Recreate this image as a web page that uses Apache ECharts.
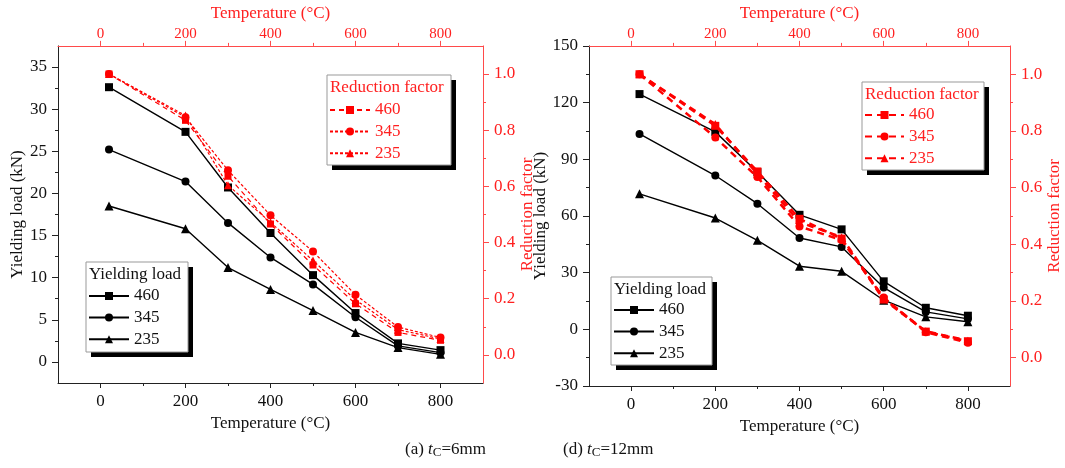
<!DOCTYPE html>
<html>
<head>
<meta charset="utf-8">
<script src="https://cdn.jsdelivr.net/npm/echarts@6/dist/echarts.min.js"></script>
<style>
html,body{margin:0;padding:0;background:#fff;}
#c{width:1065px;height:468px;}
</style>
</head>
<body>
<div id="c"></div>
<script>
// ---------- data ----------
const temps = [20, 200, 300, 400, 500, 600, 700, 800];
const xTickLabels = [0, 200, 400, 600, 800];
const xMinorTicks = [100, 300, 500, 700];

// (a) tC = 6 mm : yielding load (kN)
const loadA460 = [32.6, 27.3, 20.7, 15.3, 10.3, 5.8, 2.2, 1.4];
const loadA345 = [25.2, 21.4, 16.5, 12.4, 9.2, 5.3, 1.9, 1.1];
const loadA235 = [18.5, 15.8, 11.2, 8.6, 6.1, 3.5, 1.7, 0.9];
// (a) reduction factor
const rfA460 = [1.0, 0.835, 0.636, 0.466, 0.320, 0.182, 0.080, 0.052];
const rfA345 = [1.0, 0.846, 0.657, 0.497, 0.368, 0.214, 0.099, 0.062];
const rfA235 = [1.0, 0.852, 0.604, 0.472, 0.336, 0.196, 0.090, 0.057];

// (d) tC = 12 mm : yielding load (kN)
const loadD460 = [124.5, 104.5, 83.2, 60.6, 52.9, 25.4, 11.4, 7.2];
const loadD345 = [103.4, 81.4, 66.5, 48.3, 43.6, 22.1, 9.2, 5.5];
const loadD235 = [71.7, 58.9, 47.1, 33.4, 30.7, 15.4, 6.6, 4.0];
// (d) reduction factor
const rfD460 = [1.0, 0.818, 0.657, 0.490, 0.420, 0.205, 0.092, 0.058];
const rfD345 = [1.0, 0.777, 0.637, 0.463, 0.415, 0.212, 0.090, 0.053];
const rfD235 = [1.0, 0.824, 0.648, 0.478, 0.425, 0.208, 0.093, 0.060];

// axis tick labels
const yLabelsA = [0, 5, 10, 15, 20, 25, 30, 35];
const yMinorA = [2.5, 7.5, 12.5, 17.5, 22.5, 27.5, 32.5];
const yLabelsD = [-30, 0, 30, 60, 90, 120, 150];
const yMinorD = [-15, 15, 45, 75, 105, 135];
const rfLabels = [0, 0.2, 0.4, 0.6, 0.8, 1.0];
const rfMinor = [0.1, 0.3, 0.5, 0.7, 0.9];

// ---------- styling ----------
const FONT = 'Liberation Serif';
const RED = '#ff0000';
const RED_AXIS = '#ff4a4a';
const RED_TEXT = '#ff2020';
const BLACK_AXIS = '#222';
const X_NAME = 'Temperature (\u00B0C)';

function xMain(grid, pos, color, textColor, labelSize, name, nameGap, margin) {
  return {
    type: 'value', gridIndex: grid, position: pos, min: -100, max: 900, interval: 100,
    name: name, nameLocation: 'middle', nameGap: nameGap,
    nameTextStyle: {color: textColor, fontFamily: FONT, fontSize: 17},
    axisLine: {show: true, onZero: false, lineStyle: {color: color, width: 1}},
    axisTick: {show: true, inside: false, length: 5, customValues: xTickLabels, lineStyle: {color: color}},
    axisLabel: {show: true, customValues: xTickLabels, color: textColor, fontFamily: FONT, fontSize: labelSize, margin: margin},
    splitLine: {show: false}
  };
}
function xMinor(grid, pos, color) {
  return {
    type: 'value', gridIndex: grid, position: pos, min: -100, max: 900, interval: 100,
    axisLine: {show: false, onZero: false},
    axisTick: {show: true, inside: false, length: 3, customValues: xMinorTicks, lineStyle: {color: color}},
    axisLabel: {show: false}, splitLine: {show: false}
  };
}
function yMain(grid, pos, min, max, interval, labels, color, textColor, name, nameGap, fmt) {
  return {
    type: 'value', gridIndex: grid, position: pos, min: min, max: max, interval: interval,
    name: name, nameLocation: 'middle', nameGap: nameGap, nameRotate: 90,
    nameTextStyle: {color: textColor, fontFamily: FONT, fontSize: 17},
    axisLine: {show: true, onZero: false, lineStyle: {color: color, width: 1}},
    axisTick: {show: true, inside: false, length: 6, customValues: labels, lineStyle: {color: color}},
    axisLabel: {show: true, customValues: labels, color: textColor, fontFamily: FONT, fontSize: 17, margin: 11, formatter: fmt},
    splitLine: {show: false}
  };
}
function yMinor(grid, pos, min, max, interval, ticks, color) {
  return {
    type: 'value', gridIndex: grid, position: pos, min: min, max: max, interval: interval,
    axisLine: {show: false, onZero: false},
    axisTick: {show: true, inside: false, length: 3, customValues: ticks, lineStyle: {color: color}},
    axisLabel: {show: false}, splitLine: {show: false}
  };
}

function pairs(vals) { return temps.map((t, i) => [t, vals[i]]); }

function loadSeries(name, vals, symbol, size, xi, yi) {
  return {
    name: name, type: 'line', xAxisIndex: xi, yAxisIndex: yi, data: pairs(vals),
    symbol: symbol, symbolSize: size,
    lineStyle: {color: '#000', width: 1.4},
    itemStyle: {color: '#000'},
    z: 3, animation: false
  };
}
function rfSeries(name, vals, symbol, size, xi, yi, width, dash) {
  return {
    name: name, type: 'line', xAxisIndex: xi, yAxisIndex: yi, data: pairs(vals),
    symbol: symbol, symbolSize: size,
    lineStyle: {color: RED, width: width, type: dash},
    itemStyle: {color: RED},
    z: 4, animation: false
  };
}

const fmtInt = v => String(v);
const fmtRf = v => Number(v).toFixed(1);

const option = {
  backgroundColor: '#fff',
  animation: false,
  grid: [
    {left: 58, top: 39, width: 425, height: 344},
    {left: 589, top: 45, width: 421, height: 341}
  ],
  xAxis: [
    xMain(0, 'bottom', BLACK_AXIS, '#111', 17, X_NAME, 26, 10),
    xMain(0, 'top', RED_AXIS, RED_TEXT, 15, X_NAME, 17, 4),
    xMinor(0, 'bottom', BLACK_AXIS),
    xMinor(0, 'top', RED_AXIS),
    xMain(1, 'bottom', BLACK_AXIS, '#111', 17, X_NAME, 26, 10),
    xMain(1, 'top', RED_AXIS, RED_TEXT, 15, X_NAME, 17, 4),
    xMinor(1, 'bottom', BLACK_AXIS),
    xMinor(1, 'top', RED_AXIS)
  ],
  yAxis: [
    yMain(0, 'left', -2.5, 37.5, 2.5, yLabelsA, BLACK_AXIS, '#111', 'Yielding load (kN)', 30, fmtInt),
    yMain(0, 'right', -0.1, 1.1, 0.1, rfLabels, RED_AXIS, RED_TEXT, 'Reduction factor', 30, fmtRf),
    yMinor(0, 'left', -2.5, 37.5, 2.5, yMinorA, BLACK_AXIS),
    yMinor(0, 'right', -0.1, 1.1, 0.1, rfMinor, RED_AXIS),
    yMain(1, 'left', -30, 150, 30, yLabelsD, BLACK_AXIS, '#111', 'Yielding load (kN)', 32, fmtInt),
    yMain(1, 'right', -0.1, 1.1, 0.1, rfLabels, RED_AXIS, RED_TEXT, 'Reduction factor', 31, fmtRf),
    yMinor(1, 'left', -30, 150, 30, yMinorD, BLACK_AXIS),
    yMinor(1, 'right', -0.1, 1.1, 0.1, rfMinor, RED_AXIS)
  ],
  legend: [
    {data: ['aR460', 'aR345', 'aR235'], orient: 'vertical', left: 329, top: 101.5,
     itemWidth: 40, itemHeight: 10, itemGap: 4.6, padding: 0, selectedMode: false, z: 20,
     formatter: n => n.slice(-3),
     textStyle: {color: RED_TEXT, fontFamily: FONT, fontSize: 17, lineHeight: 17}},
    {data: ['aL460', 'aL345', 'aL235'], orient: 'vertical', left: 88, top: 287.5,
     itemWidth: 40, itemHeight: 10, itemGap: 4.6, padding: 0, selectedMode: false, z: 20,
     formatter: n => n.slice(-3),
     textStyle: {color: '#111', fontFamily: FONT, fontSize: 17, lineHeight: 17}},
    {data: ['dR460', 'dR345', 'dR235'], orient: 'vertical', left: 864, top: 106.5,
     itemWidth: 39, itemHeight: 10, itemGap: 4.6, padding: 0, selectedMode: false, z: 20,
     formatter: n => n.slice(-3),
     textStyle: {color: RED_TEXT, fontFamily: FONT, fontSize: 17, lineHeight: 17}},
    {data: ['dL460', 'dL345', 'dL235'], orient: 'vertical', left: 613, top: 301.5,
     itemWidth: 40, itemHeight: 10, itemGap: 4.6, padding: 0, selectedMode: false, z: 20,
     formatter: n => n.slice(-3),
     textStyle: {color: '#111', fontFamily: FONT, fontSize: 17, lineHeight: 17}}
  ],
  series: [
    loadSeries('aL460', loadA460, 'rect', 8, 0, 0),
    loadSeries('aL345', loadA345, 'circle', 8, 0, 0),
    loadSeries('aL235', loadA235, 'triangle', 9, 0, 0),
    rfSeries('aR460', rfA460, 'rect', 7, 0, 1, 1.2, [5, 4]),
    rfSeries('aR345', rfA345, 'circle', 8, 0, 1, 1.2, [3, 2]),
    rfSeries('aR235', rfA235, 'triangle', 8, 0, 1, 1.2, [3, 2]),
    loadSeries('dL460', loadD460, 'rect', 8, 4, 4),
    loadSeries('dL345', loadD345, 'circle', 8, 4, 4),
    loadSeries('dL235', loadD235, 'triangle', 9, 4, 4),
    rfSeries('dR460', rfD460, 'rect', 8, 4, 5, 2.5, [7, 5]),
    rfSeries('dR345', rfD345, 'circle', 8, 4, 5, 2.5, [7, 5]),
    rfSeries('dR235', rfD235, 'triangle', 8, 4, 5, 2.5, [7, 5])
  ],
  graphic: {elements: []}
};

// legend frames (shadow + white box + title)
function legendBox(x, y, w, h, title, color) {
  return [
    {type: 'rect', z: 15, shape: {x: x + 5, y: y + 5, width: w, height: h}, style: {fill: '#000'}},
    {type: 'rect', z: 16, shape: {x: x, y: y, width: w, height: h}, style: {fill: '#fff', stroke: '#999', lineWidth: 1}},
    {type: 'text', z: 21, style: {x: x + 3, y: y + 13, text: title, fill: color,
      font: '17px "Liberation Serif"', verticalAlign: 'middle', textVerticalAlign: 'middle'}}
  ];
}
option.graphic.elements.push(
  ...legendBox(327, 75, 124, 90, 'Reduction factor', RED_TEXT),
  ...legendBox(86, 262, 102, 90, 'Yielding load', '#111'),
  ...legendBox(862, 82, 122, 88, 'Reduction factor', RED_TEXT),
  ...legendBox(611, 277, 101, 88, 'Yielding load', '#111')
);

// captions
function caption(x, y, tail, prefix) {
  return {type: 'text', z: 21, style: {x: x, y: y, verticalAlign: 'middle', textVerticalAlign: 'middle',
    text: '{n|' + prefix + ' }{i|t}{s|C}{n|' + tail + '}',
    rich: {
      n: {fontFamily: FONT, fontSize: 17, fill: '#111', color: '#111'},
      i: {fontFamily: FONT, fontSize: 17, fontStyle: 'italic', fill: '#111', color: '#111'},
      s: {fontFamily: FONT, fontSize: 13, fill: '#111', color: '#111', padding: [5, 0, 0, 0]}
    }}};
}
option.graphic.elements.push(caption(405, 450, '=6mm', '(a)'), caption(563, 450, '=12mm', '(d)'));

const chart = echarts.init(document.getElementById('c'), null, {renderer: 'canvas'});
chart.setOption(option);
</script>
</body>
</html>
